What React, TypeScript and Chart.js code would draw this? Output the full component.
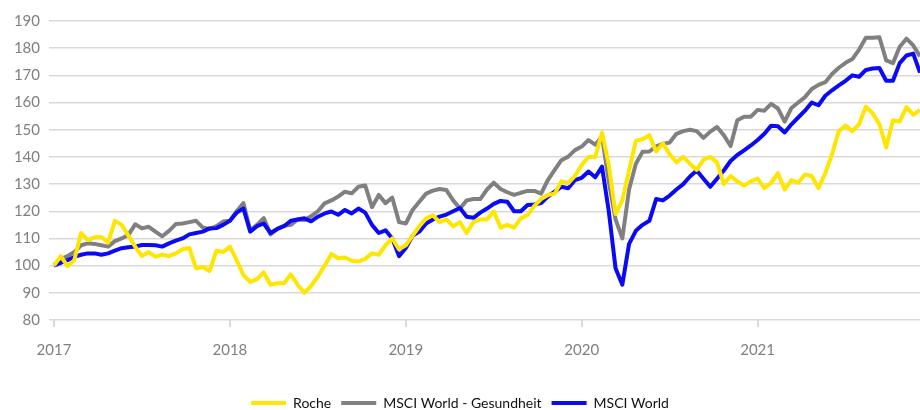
import React, { useEffect, useRef } from "react";
import { Chart, registerables } from "chart.js";

Chart.register(...registerables);

// ---- data (one point every two weeks from Jan 2017) ----
const START_YEAR = 2017;
const STEPS_PER_YEAR = 26;
const YEAR_TICKS = [2017, 2018, 2019, 2020, 2021];
const Y_TICKS = [80, 90, 100, 110, 120, 130, 140, 150, 160, 170, 180, 190];
const SERIES_NAMES = ["Roche", "MSCI World - Gesundheit", "MSCI World"];
const SERIES_COLORS = ["#FFE600", "#808080", "#0A0AF5"];

const roche = [
  100, 103.5, 99.8, 102, 112, 109.4, 110.4, 110.5, 108.5, 116.5, 115, 111, 107, 103.5, 105, 103.3, 104, 103.5, 104.5, 106, 106.5, 99, 99.5, 98, 105.5, 105, 107,
  102, 96.5, 94, 95, 97.5, 93, 93.5, 93.5, 96.8, 93, 90, 92.5, 96, 100, 104.3, 102.7, 103, 101.8, 101.5, 102.5, 104.5, 104, 107.5, 110, 106, 107.5,
  111, 114.5, 117.4, 118.5, 116, 117, 114.5, 116, 112, 116, 117, 117, 120, 114, 115, 114, 117.4, 118.6, 122, 124.5, 126, 126.5, 131, 130.3, 133, 137,
  140, 140, 149, 137, 119, 124, 135, 146, 146.5, 148, 142, 145, 141, 138, 140, 137.5, 135.2, 139, 140, 138, 130, 133, 131, 129.5, 131, 132,
  128.5, 130.5, 134, 128, 131.5, 130.5, 133.5, 133, 128.5, 134, 141, 149.5, 151.5, 149.5, 152, 158.5, 156, 152, 143.5, 153.5, 153, 158.3, 155.5, 157.3,
];

const msciHealth = [
  100.3, 102.3, 103.5, 105, 107.5, 108.2, 108, 107.5, 107, 109, 110, 111.3, 115.2, 113.7, 114.3, 112.5, 110.8, 112.8, 115.3, 115.5, 116, 116.5, 114, 113.5, 114.5, 116.2, 116.5,
  120, 123, 113, 115, 117.5, 111.5, 113.5, 114.7, 115, 117, 116.8, 118.2, 120, 122.9, 124, 125.4, 127.2, 126.6, 129, 129.5, 121.5, 126, 123, 125, 116, 115.5,
  120.5, 123.5, 126.5, 127.6, 128.2, 127.8, 124, 121, 124, 124.5, 124.5, 128, 130.5, 128.2, 127, 126, 126.8, 127.5, 127.5, 126.5, 131.5, 135.2, 138.8, 140.1, 142.5, 143.8,
  146.2, 144.5, 147.5, 131, 117, 110, 128, 137.5, 141.9, 142, 143.9, 144.8, 145.3, 148.5, 149.5, 150, 149.5, 147, 149.3, 151, 148, 144, 153.5, 154.8, 154.8, 157.3,
  157, 159.5, 157.8, 153, 158, 160, 162, 165, 166.5, 167.5, 170.5, 172.8, 174.6, 176, 179.5, 183.8, 183.8, 184, 175.5, 174.5, 180.5, 183.5, 181, 177,
];

const msciWorld = [
  100, 101, 102, 103.2, 104, 104.5, 104.5, 104, 104.5, 105.5, 106.4, 106.8, 107, 107.6, 107.6, 107.5, 107, 108.2, 109.2, 110, 111.5, 112, 112.5, 113.7, 113.8, 115, 116.5,
  119.5, 121, 112.5, 114.5, 115.5, 112, 113.5, 114.5, 116.5, 117, 117.4, 116.3, 118, 119.2, 119.9, 118.7, 120.5, 119.2, 121, 119.5, 115, 112, 113, 110, 103.5, 106.5,
  111, 112.5, 115.5, 117, 118, 118.8, 120, 121.2, 118, 117.6, 119.5, 121, 122.7, 123.8, 123.5, 120, 120, 122.3, 122.5, 123, 125.4, 127.2, 129, 128.5, 131.5, 132.3,
  134.6, 132.5, 136.4, 120, 99, 93, 108, 112.8, 115, 116.5, 124.5, 124, 125.8, 128, 130, 132.8, 135, 132, 129, 132, 135, 138.5, 140.7, 142.4, 144.2, 146.2,
  148.5, 151.5, 151.3, 149, 152, 154.5, 157, 160, 159, 162.5, 164.5, 166.3, 168, 170, 169.5, 172, 172.5, 172.7, 168, 168, 174.5, 177.3, 178, 171,
];

const SERIES_VALUES = [roche, msciHealth, msciWorld];

const toPoints = (vals: number[]) =>
  vals.map((v, i) => ({ x: START_YEAR + i / STEPS_PER_YEAR, y: v }));

const PLOT_BOTTOM = 320;
const LEGEND_SHIFT = 10;

export default function App() {
  const canvasRef = useRef<HTMLCanvasElement | null>(null);

  useEffect(() => {
    document.body.style.margin = "0";
    const canvas = canvasRef.current;
    if (!canvas) return;
    const lastX = START_YEAR + (roche.length - 1) / STEPS_PER_YEAR;

    const chart = new Chart(canvas, {
      type: "line",
      data: {
        datasets: SERIES_NAMES.map((name, k) => ({
          label: name,
          data: toPoints(SERIES_VALUES[k]),
          borderColor: SERIES_COLORS[k],
          backgroundColor: SERIES_COLORS[k],
          borderWidth: 4,
          pointRadius: 0,
          tension: 0,
          borderJoinStyle: "round" as const,
          order: k === 0 ? 0 : k === 1 ? 2 : 1,
        })),
      },
      options: {
        responsive: false,
        animation: false,
        layout: { padding: { top: 21, right: 0, left: 0, bottom: -LEGEND_SHIFT } },
        plugins: {
          tooltip: { enabled: false },
          legend: {
            position: "bottom",
            labels: {
              boxWidth: 35,
              boxHeight: 4,
              padding: 10,
              color: "#111111",
              font: { family: "Lato", size: 14 },
              sort: (a: any, b: any) => a.datasetIndex - b.datasetIndex,
              generateLabels: (ch: any) =>
                Chart.defaults.plugins.legend.labels
                  .generateLabels(ch)
                  .map((it: any) => ({ ...it, lineWidth: 0, fillStyle: it.strokeStyle })),
            },
          },
        },
        scales: {
          x: {
            type: "linear",
            min: START_YEAR - 5 / 176,
            max: lastX,
            border: { display: false },
            grid: {
              drawOnChartArea: false,
              drawTicks: true,
              tickLength: 7,
              color: "#d9d9d9",
              lineWidth: 2,
            },
            afterBuildTicks: (s: any) => {
              s.ticks = YEAR_TICKS.map((v) => ({ value: v }));
            },
            ticks: {
              includeBounds: false,
              autoSkip: false,
              maxRotation: 0,
              padding: 14,
              color: "#7f7f7f",
              font: { family: "Lato", size: 15 },
              callback: (v: any) => String(v),
            },
            afterFit: (s: any) => {
              const lh = s.chart.legend ? s.chart.legend.height : 0;
              s.height = 410 - PLOT_BOTTOM - lh + LEGEND_SHIFT;
            },
          },
          y: {
            min: 80,
            max: 190,
            border: { display: false },
            grid: { color: "#d9d9d9", lineWidth: 1.5, drawTicks: false },
            afterBuildTicks: (s: any) => {
              s.ticks = Y_TICKS.map((v) => ({ value: v }));
            },
            ticks: {
              padding: 9,
              color: "#7f7f7f",
              font: { family: "Lato", size: 15 },
            },
            afterFit: (s: any) => {
              s.width = 49;
            },
          },
        },
      },
    });
    return () => chart.destroy();
  }, []);

  return (
    <div style={{ position: "relative", width: 920, height: 410 }}>
      <canvas ref={canvasRef} width={920} height={410} />
    </div>
  );
}
